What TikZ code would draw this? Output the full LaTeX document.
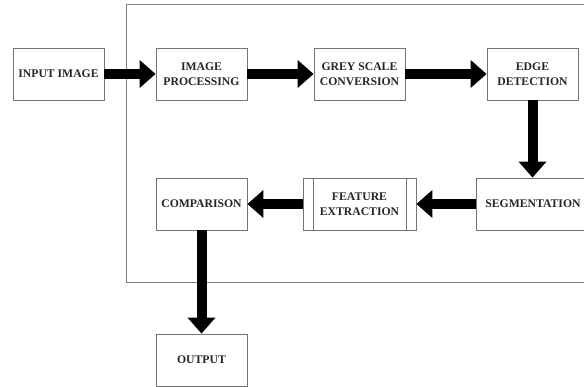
\documentclass[tikz,border=0pt]{standalone}
\usepackage{fontspec}
\setmainfont{Liberation Serif}
\usetikzlibrary{arrows.meta}
\begin{document}
\begin{tikzpicture}[x=1pt,y=1pt,
  blk/.style={draw=black!55, line width=0.8pt, fill=white, minimum width=91pt, minimum height=52pt,
    inner sep=0pt, align=center, text=black!85,
    font=\fontsize{11.7}{15.5}\selectfont\bfseries},
  flow/.style={line width=10pt, -{Triangle[length=16pt,width=27pt]}, black}]
\useasboundingbox (0,0) rectangle (584,387);
\fill[white] (0,0) rectangle (584,387);
\draw[black!50, line width=0.9pt] (126,105) rectangle (620,383);
\node[blk] (in)  at (58.5,313) {INPUT IMAGE};
\node[blk] (ip)  at (201.5,313) {IMAGE\\PROCESSING};
\node[blk] (gs)  at (359.5,313) {GREY SCALE\\CONVERSION};
\node[blk] (ed)  at (532.5,313) {EDGE\\DETECTION};
\node[blk, minimum width=114pt] (seg) at (533,183) {SEGMENTATION};
\node[blk, minimum width=113pt] (fe)  at (359.5,183) {FEATURE\\EXTRACTION};
\node[blk] (cmp) at (201.5,183) {COMPARISON};
\node[blk] (out) at (201.5,27) {OUTPUT};
\draw[black!55, line width=0.8pt] ([xshift=11pt]fe.north west) -- ([xshift=11pt]fe.south west);
\draw[black!55, line width=0.8pt] ([xshift=-10pt]fe.north east) -- ([xshift=-10pt]fe.south east);
\draw[flow] (in.east) -- (ip.west);
\draw[flow] (ip.east) -- (gs.west);
\draw[flow] (gs.east) -- (ed.west);
\draw[flow] (ed.south) -- (ed.south |- seg.north);
\draw[flow] (seg.west) -- (fe.east);
\draw[flow] (fe.west) -- (cmp.east);
\draw[flow] (cmp.south) -- (out.north);
\end{tikzpicture}
\end{document}
